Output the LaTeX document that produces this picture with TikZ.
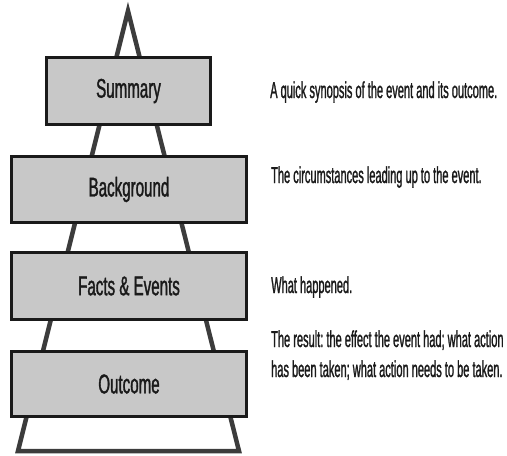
\documentclass[tikz,border=0pt]{standalone}
\usepackage{fontspec}
\newfontfamily\labelfont{Liberation Sans}[FakeStretch=0.56,FakeBold=1.3]
\newfontfamily\notefont{Liberation Sans}[FakeStretch=0.48,FakeBold=1.1]
\definecolor{boxfill}{HTML}{C8C8C8}
\definecolor{frame}{HTML}{3C3C3C}
\definecolor{ink}{HTML}{1A1A1A}
\begin{document}
\frenchspacing
\begin{tikzpicture}[x=1pt,y=-1pt,
  layer/.style={draw=ink,line width=3pt,fill=boxfill,inner sep=0pt,
    text=ink,font=\labelfont\fontsize{27}{30}\selectfont},
  note/.style={anchor=base west,inner sep=0pt,text=ink,align=left,
    font=\notefont\fontsize{23}{30}\selectfont}]
\useasboundingbox (0,0) rectangle (507,456);

% pyramid outline behind the layers
\coordinate (apex) at (128,11);
\coordinate (bl) at (18,451);
\coordinate (br) at (239,451);
\draw[frame,line width=4.5pt,line join=miter] (apex) -- (bl) -- (br) -- cycle;

% layers
\node[layer,minimum width=164pt,minimum height=67pt] (summary) at (128.5,91) {Summary};
\node[layer,minimum width=235pt,minimum height=66pt] (background) at (129,189.5) {Background};
\node[layer,minimum width=235pt,minimum height=67pt] (facts) at (129,286) {Facts \& Events};
\node[layer,minimum width=235pt,minimum height=65pt] (outcome) at (129,384) {Outcome};

% descriptions
\node[note] (dsummary) at (270,98) {A quick synopsis of the event and its outcome.};
\node[note] (dbackground) at (271,183) {The circumstances leading up to the event.};
\node[note] (dfacts) at (271,293) {What happened.};
\node[note] (doutcome) at (271,377) {The result: the effect the event had; what action\\has been taken; what action needs to be taken.};
\end{tikzpicture}
\end{document}
